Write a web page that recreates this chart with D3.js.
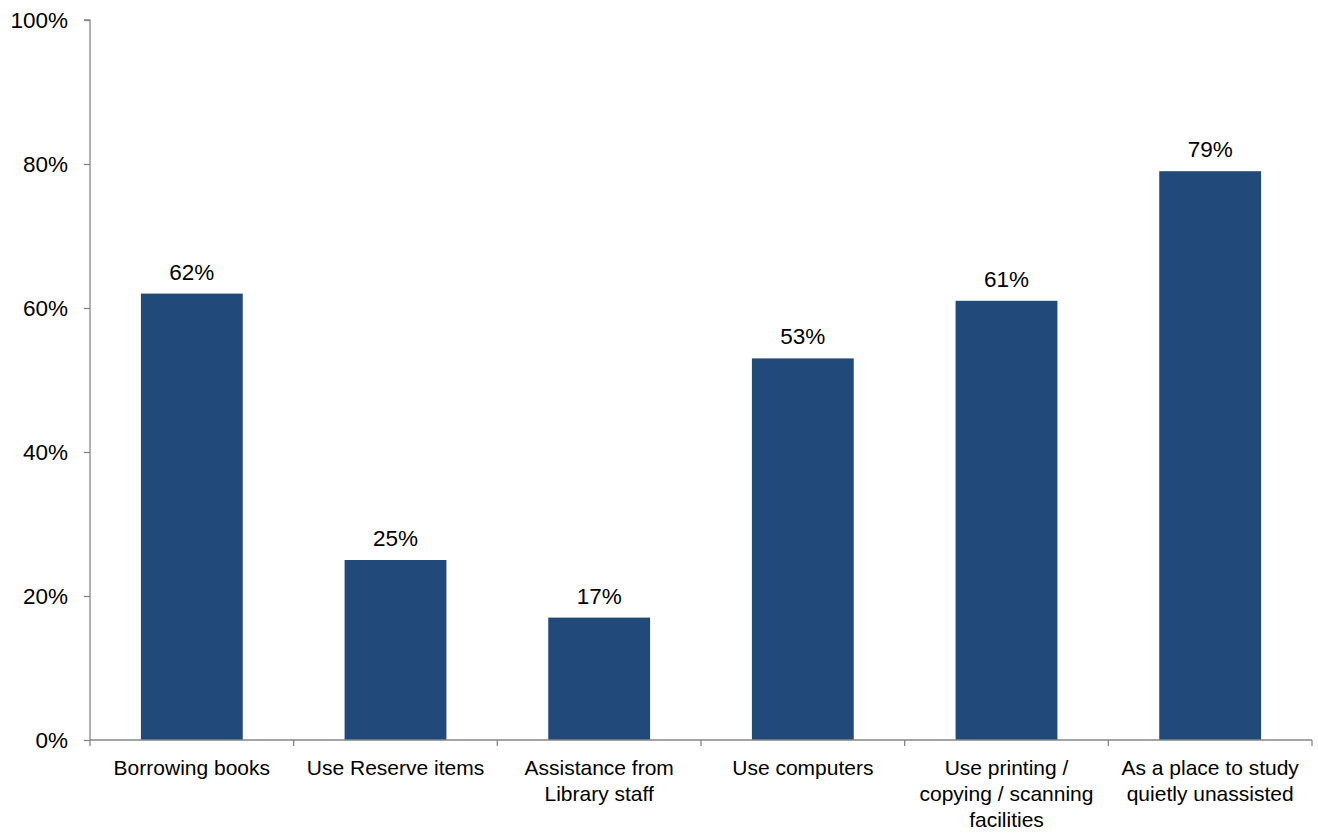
<!DOCTYPE html>
<html>
<head>
<meta charset="utf-8">
<script src="https://cdn.jsdelivr.net/npm/d3@7"></script>
<style>
  html, body { margin: 0; padding: 0; background: #fff; }
  svg { display: block; }
  text { font-family: "Liberation Sans", Arial, sans-serif; fill: #000; }
</style>
</head>
<body>
<svg id="chart" width="1318" height="833"></svg>
<script>
// Library usage purposes (share of respondents)
const categories = [
  ["Borrowing books"],
  ["Use Reserve items"],
  ["Assistance from", "Library staff"],
  ["Use computers"],
  ["Use printing /", "copying / scanning", "facilities"],
  ["As a place to study", "quietly unassisted"]
];
const values = [62, 25, 17, 53, 61, 79];
const yTicks = [0, 20, 40, 60, 80, 100];

const svg = d3.select("#chart");
const margin = { left: 90, right: 6, top: 20, bottom: 93 };
const width = 1318, height = 833;
const axisColor = "#868686";
const barColor = "#214A7B";
const numSize = 22.5;
const catSize = 21;

const x = d3.scaleBand()
  .domain(d3.range(categories.length))
  .range([margin.left, width - margin.right])
  .paddingInner(0.5)
  .paddingOuter(0.25);

const y = d3.scaleLinear()
  .domain([0, 100])
  .range([height - margin.bottom, margin.top]);

// Bars
svg.append("g")
  .selectAll("rect")
  .data(values)
  .join("rect")
  .attr("x", (d, i) => x(i))
  .attr("y", d => y(d))
  .attr("width", x.bandwidth())
  .attr("height", d => y(0) - y(d))
  .attr("fill", barColor);

// Value labels
svg.append("g")
  .selectAll("text")
  .data(values)
  .join("text")
  .attr("x", (d, i) => x(i) + x.bandwidth() / 2)
  .attr("y", d => y(d) - 14)
  .attr("text-anchor", "middle")
  .attr("font-size", numSize)
  .text(d => d + "%");

// Y axis
const yAxis = svg.append("g")
  .attr("transform", `translate(${margin.left},0)`)
  .call(d3.axisLeft(y).tickValues(yTicks).tickSize(6).tickPadding(16)
    .tickFormat(d => d + "%"));
yAxis.select(".domain").attr("stroke", axisColor).attr("stroke-width", 1.3)
  .attr("d", `M-6,${y(100)}H0V${y(0)}`);
yAxis.selectAll(".tick line").attr("stroke", axisColor).attr("stroke-width", 1.3);
yAxis.selectAll(".tick text").attr("font-size", numSize)
  .attr("font-family", "Liberation Sans, Arial, sans-serif").attr("fill", "#000");

// X axis with boundary ticks between categories
const x0 = y(0);
const xg = svg.append("g");
xg.append("line")
  .attr("x1", margin.left).attr("x2", width - margin.right)
  .attr("y1", x0).attr("y2", x0)
  .attr("stroke", axisColor).attr("stroke-width", 1.3);
const step = x.step();
const bounds = d3.range(categories.length + 1).map(i => margin.left + i * step);
xg.selectAll("line.tk")
  .data(bounds)
  .join("line")
  .attr("class", "tk")
  .attr("x1", d => d).attr("x2", d => d)
  .attr("y1", x0).attr("y2", x0 + 6)
  .attr("stroke", axisColor).attr("stroke-width", 1.3);

// Category labels
const lab = xg.selectAll("text.cat")
  .data(categories)
  .join("text")
  .attr("class", "cat")
  .attr("text-anchor", "middle")
  .attr("font-size", catSize)
  .attr("x", (d, i) => x(i) + x.bandwidth() / 2)
  .attr("y", x0 + 35);
lab.selectAll("tspan")
  .data(d => d)
  .join("tspan")
  .attr("x", function() { return this.parentNode.getAttribute("x"); })
  .attr("dy", (d, i) => i === 0 ? 0 : 26)
  .text(d => d);
</script>
</body>
</html>
